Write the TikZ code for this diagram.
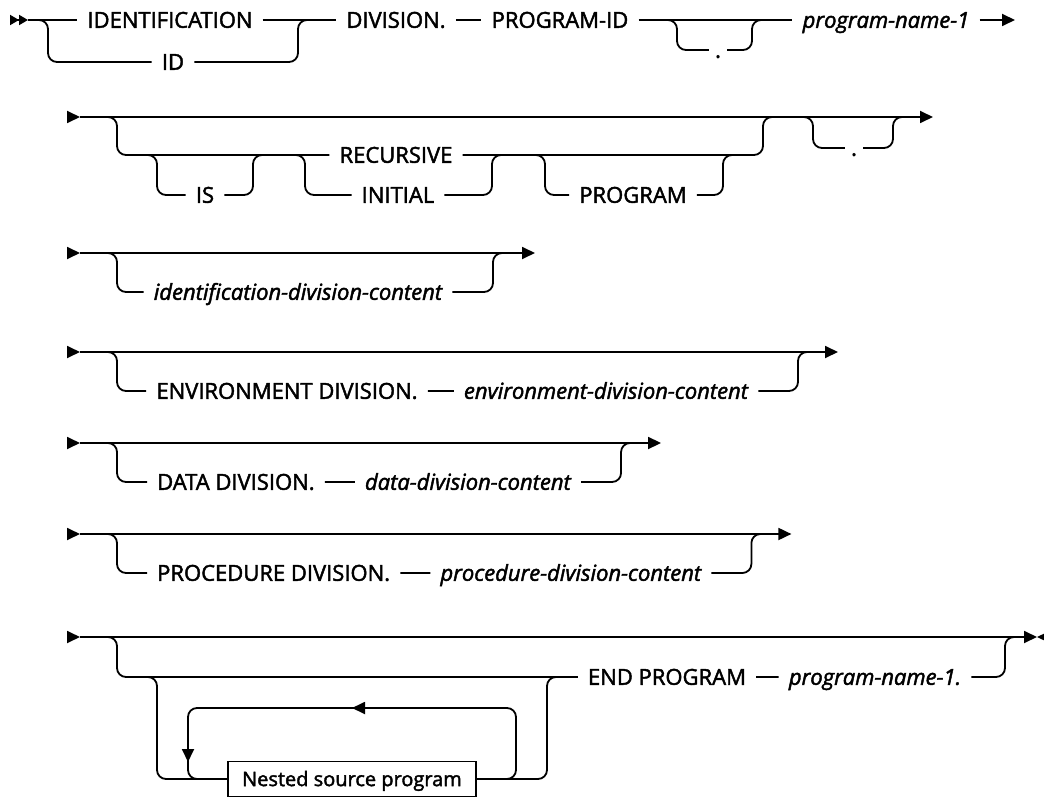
\documentclass[tikz,border=0pt]{standalone}
\usepackage{fontspec}
\setmainfont{Open Sans}[FakeBold=2]
\usetikzlibrary{arrows.meta}
\usetikzlibrary{positioning}
\tikzset{
    rail/.style={
        draw,
        line width=1.8pt,
        rounded corners=9pt},
    begin2/.style={-{Triangle[length=9pt,width=10pt]Triangle[length=9pt,width=10pt]}},
    kw/.style={
        inner xsep=10pt,
        inner ysep=0pt,
        text height=15.6pt,
        text depth=0pt,
        font=\fontsize{22}{26}\selectfont},
    var/.style={kw, font=\fontsize{22}{26}\selectfont\itshape},
    dotkw/.style={kw, inner xsep=6pt},
    box/.style={kw, draw, line width=1.5pt, inner xsep=3pt,
        text height=14.2pt, font=\fontsize{20}{24}\selectfont,
        minimum width=248pt, minimum height=35pt}}

\begin{document}
\begin{tikzpicture}[x=1pt,y=-1pt,>={Triangle[length=13pt,width=12pt]}]
    \useasboundingbox (0,0) rectangle (1044,797);

    % IDENTIFICATION DIVISION. PROGRAM-ID
    \coordinate (s1) at (28,20);
    \coordinate (a1) at (48,20);
    \coordinate (b1) at (298,20);
    \coordinate (c1) at (677,20);
    \coordinate (d1) at (752,20);
    \coordinate (e1) at (1015,20);
    \node[kw] (ident) at (170,20) {IDENTIFICATION};
    \node[kw] (id) at (173,62) {ID};
    \node[kw] (div) at (396,20) {DIVISION.};
    \node[kw] (pgmid) at (560,20) {PROGRAM-ID};
    \node[dotkw] (dot1) at (718,50) {.};
    \node[var] (pname) at (886,20) {program-name-1};

    \draw[rail,begin2] ([xshift=-18pt]s1) -- (s1);
    \draw[rail] (s1) -- (ident.west) (ident.east) -- (div.west)
        (div.east) -- (pgmid.west) (pgmid.east) -- (pname.west);
    \draw[rail,->] (pname.east) -- (e1);
    \draw[rail] ([xshift=-10pt]a1) -- (a1) -- (a1 |- id) -- (id.west)
        (id.east) -- (b1 |- id) -- (b1) -- ([xshift=10pt]b1);
    \draw[rail] ([xshift=-10pt]c1) -- (c1) -- (c1 |- dot1) -- (dot1.west)
        (dot1.east) -- (d1 |- dot1) -- (d1) -- ([xshift=10pt]d1);

    % IS RECURSIVE/INITIAL PROGRAM
    \coordinate (s2) at (80,117);
    \coordinate (e2) at (933,117);
    \coordinate (a2) at (117,117);
    \coordinate (b2) at (763,117);
    \coordinate (c2) at (813,117);
    \coordinate (d2) at (893,117);
    \coordinate (f2) at (157,155);
    \coordinate (g2) at (253,155);
    \coordinate (h2) at (305,155);
    \coordinate (i2) at (492,155);
    \coordinate (k2) at (545,155);
    \coordinate (l2) at (723,155);
    \node[kw] (is) at (205,195) {IS};
    \node[kw] (recur) at (396,155) {RECURSIVE};
    \node[kw] (init) at (398,195) {INITIAL};
    \node[kw] (prog) at (633,195) {PROGRAM};
    \node[dotkw] (dot2) at (854,148) {.};

    \draw[rail,->] ([xshift=-13pt]s2) -- (s2);
    \draw[rail,->] (s2) -- (e2);
    \draw[rail] ([xshift=-10pt]a2) -- (a2) -- (a2 |- recur) -- (recur.west)
        (recur.east) -- (b2 |- recur) -- (b2) -- ([xshift=10pt]b2);
    \draw[rail] ([xshift=-10pt]f2) -- (f2) -- (f2 |- is) -- (is.west)
        (is.east) -- (g2 |- is) -- (g2) -- ([xshift=10pt]g2);
    \draw[rail] ([xshift=-10pt]h2) -- (h2) -- (h2 |- init) -- (init.west)
        (init.east) -- (i2 |- init) -- (i2) -- ([xshift=10pt]i2);
    \draw[rail] ([xshift=-10pt]k2) -- (k2) -- (k2 |- prog) -- (prog.west)
        (prog.east) -- (l2 |- prog) -- (l2) -- ([xshift=10pt]l2);
    \draw[rail] ([xshift=-10pt]c2) -- (c2) -- (c2 |- dot2) -- (dot2.west)
        (dot2.east) -- (d2 |- dot2) -- (d2) -- ([xshift=10pt]d2);

    % identification-division-content
    \coordinate (s3) at (80,253);
    \coordinate (e3) at (535,253);
    \coordinate (a3) at (117,253);
    \coordinate (b3) at (493,253);
    \node[var] (idc) at (298,292) {identification-division-content};

    \draw[rail,->] ([xshift=-13pt]s3) -- (s3);
    \draw[rail,->] (s3) -- (e3);
    \draw[rail] ([xshift=-10pt]a3) -- (a3) -- (a3 |- idc) -- (idc.west)
        (idc.east) -- (b3 |- idc) -- (b3) -- ([xshift=10pt]b3);

    % ENVIRONMENT DIVISION.
    \coordinate (s4) at (80,352);
    \coordinate (e4) at (838,352);
    \coordinate (a4) at (117,352);
    \coordinate (b4) at (798,352);
    \node[kw] (envd) at (287,391) {ENVIRONMENT DIVISION.};
    \node[var] (envc) at (606,391) {environment-division-content};

    \draw[rail,->] ([xshift=-13pt]s4) -- (s4);
    \draw[rail,->] (s4) -- (e4);
    \draw[rail] ([xshift=-10pt]a4) -- (a4) -- (a4 |- envd) -- (envd.west)
        (envd.east) -- (envc.west)
        (envc.east) -- (b4 |- envc) -- (b4) -- ([xshift=10pt]b4);

    % DATA DIVISION.
    \coordinate (s5) at (80,443);
    \coordinate (a5) at (117,443);
    \node[kw,anchor=west] (datad) at (147,482) {DATA DIVISION.};
    \node[var,right=30pt of datad] (datac) {data-division-content};
    \path (datac.east) ++(40,0) coordinate (j5)
        (j5 |- s5) coordinate (b5) ++(40,0) coordinate (e5);

    \draw[rail,->] ([xshift=-13pt]s5) -- (s5);
    \draw[rail,->] (s5) -- (e5);
    \draw[rail] ([xshift=-10pt]a5) -- (a5) -- (a5 |- datad) -- (datad.west)
        (datad.east) -- (datac.west)
        (datac.east) -- (j5) -- (b5) -- ([xshift=10pt]b5);

    % PROCEDURE DIVISION.
    \coordinate (s6) at (80,534);
    \coordinate (a6) at (117,534);
    \node[kw,anchor=west] (procd) at (147,573) {PROCEDURE DIVISION.};
    \node[var,right=30pt of procd] (procc) {procedure-division-content};
    \path (procc.east) ++(40,0) coordinate (j6)
        (j6 |- s6) coordinate (b6) ++(40,0) coordinate (e6);

    \draw[rail,->] ([xshift=-13pt]s6) -- (s6);
    \draw[rail,->] (s6) -- (e6);
    \draw[rail] ([xshift=-10pt]a6) -- (a6) -- (a6 |- procd) -- (procd.west)
        (procd.east) -- (procc.west)
        (procc.east) -- (j6) -- (b6) -- ([xshift=10pt]b6);

    % nested programs, END PROGRAM
    \coordinate (s7) at (80,637);
    \coordinate (e7) at (1037,637);
    \coordinate (a7) at (117,637);
    \coordinate (b7) at (1005,637);
    \coordinate (f7) at (157,677);
    \coordinate (g7) at (547,677);
    \coordinate (l7) at (516,708);
    \coordinate (m7) at (188,708);
    \coordinate (lp) at (352,708);
    \coordinate (ld) at (188,762);
    \node[kw] (endp) at (667,677) {END PROGRAM};
    \node[var] (pname2) at (875,677) {program-name-1.};
    \node[box] (nsp) at (352,779) {Nested source program};

    \draw[rail,->] ([xshift=-13pt]s7) -- (s7);
    \draw[rail,->] (s7) -- (e7);
    \draw[rail,->] ([xshift=13pt]e7) -- (e7);
    \draw[rail] ([xshift=-10pt]a7) -- (a7) -- (a7 |- endp) -- (endp.west)
        (endp.east) -- (pname2.west)
        (pname2.east) -- (b7 |- pname2) -- (b7) -- ([xshift=10pt]b7);
    \draw[rail] ([xshift=-10pt]f7) -- (f7) -- (f7 |- nsp) -- (nsp.west)
        (nsp.east) -- (g7 |- nsp) -- (g7) -- ([xshift=10pt]g7);
    \draw[rail] (nsp.east) -- (l7 |- nsp) -- (l7) -- (m7) -- (m7 |- nsp) -- (nsp.west);
    \draw[rail,->] ([xshift=13pt]lp) -- (lp);
    \draw[rail,->] ([yshift=13pt]ld) -- (ld);
\end{tikzpicture}
\end{document}
